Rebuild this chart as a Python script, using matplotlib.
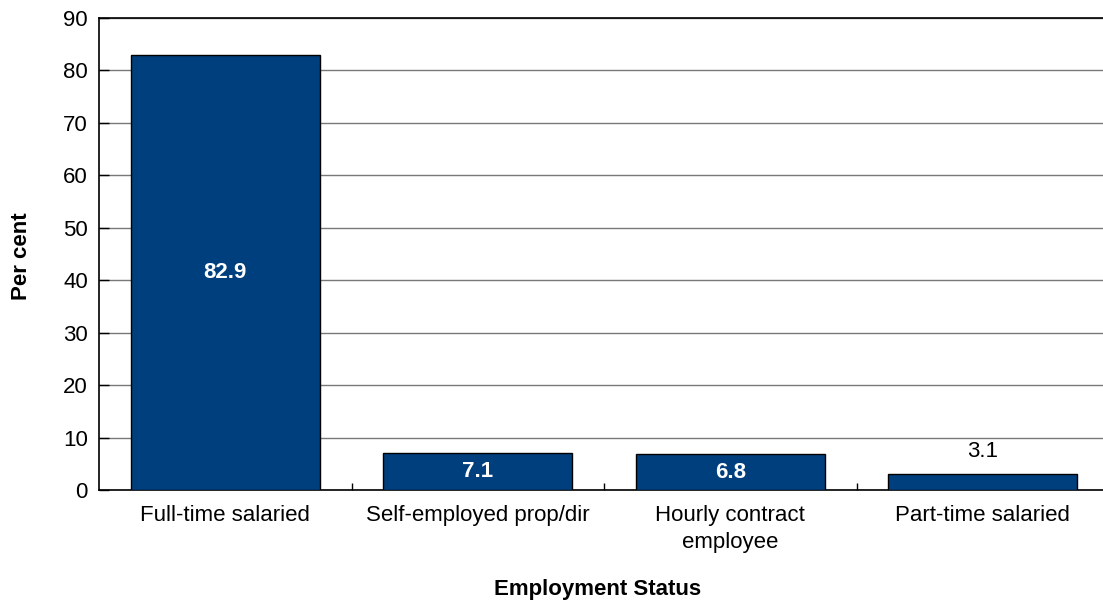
import matplotlib
matplotlib.use("Agg")
import matplotlib.pyplot as plt
from matplotlib.ticker import FixedLocator

categories = ["Full-time salaried", "Self-employed prop/dir", "Hourly contract\nemployee", "Part-time salaried"]
values = [82.9, 7.1, 6.8, 3.1]
value_labels = ["82.9", "7.1", "6.8", "3.1"]
yticks = [0, 10, 20, 30, 40, 50, 60, 70, 80, 90]

plt.rcParams['font.family'] = ['Liberation Sans', 'DejaVu Sans']

W, H = 1103, 603
fig = plt.figure(figsize=(W / 100, H / 100), dpi=100)
left, right, top, bottom = 99, 1109, 18, 490
ax = fig.add_axes([left / W, (H - bottom) / H, (right - left) / W, (bottom - top) / H])

x = list(range(len(categories)))
bars = ax.bar(x, values, width=0.75, color="#003F7D", edgecolor="black", linewidth=1.0, zorder=3)

ax.set_xlim(-0.5, len(categories) - 0.5)
ax.set_ylim(0, 90)
ax.set_yticks(yticks)
ax.yaxis.grid(True, color="#787878", linewidth=1.0, zorder=0)
ax.set_axisbelow(True)

ax.set_xticks(x)
ax.set_xticklabels(categories, fontsize=16, linespacing=1.35)
ax.xaxis.set_minor_locator(FixedLocator([0.5, 1.5, 2.5]))
ax.tick_params(axis="x", which="major", length=0, pad=11)
ax.tick_params(axis="x", which="minor", direction="in", length=5, width=1)
ax.tick_params(axis="y", direction="in", length=7, width=1, labelsize=16, pad=8)

for s in ["left", "bottom", "top"]:
    ax.spines[s].set_color("black")
    ax.spines[s].set_linewidth(1.2)
ax.spines["right"].set_visible(False)

for b, v, lab in zip(bars, values, value_labels):
    cx = b.get_x() + b.get_width() / 2
    if v > 5:
        ax.text(cx, v / 2, lab, ha="center", va="center", color="white",
                fontsize=16, fontweight="bold", zorder=4)
    else:
        ax.text(cx, v + 2.2, lab, ha="center", va="bottom", color="black",
                fontsize=16, zorder=4)

# Axis titles placed in figure coordinates
fig.text(22 / W, 1 - 256 / H, "Per cent", rotation=90, ha="center", va="center",
         fontsize=16, fontweight="bold")
fig.text(598 / W, 1 - 590 / H, "Employment Status", ha="center", va="center",
         fontsize=16, fontweight="bold")

fig.savefig("out.png", dpi=100)
